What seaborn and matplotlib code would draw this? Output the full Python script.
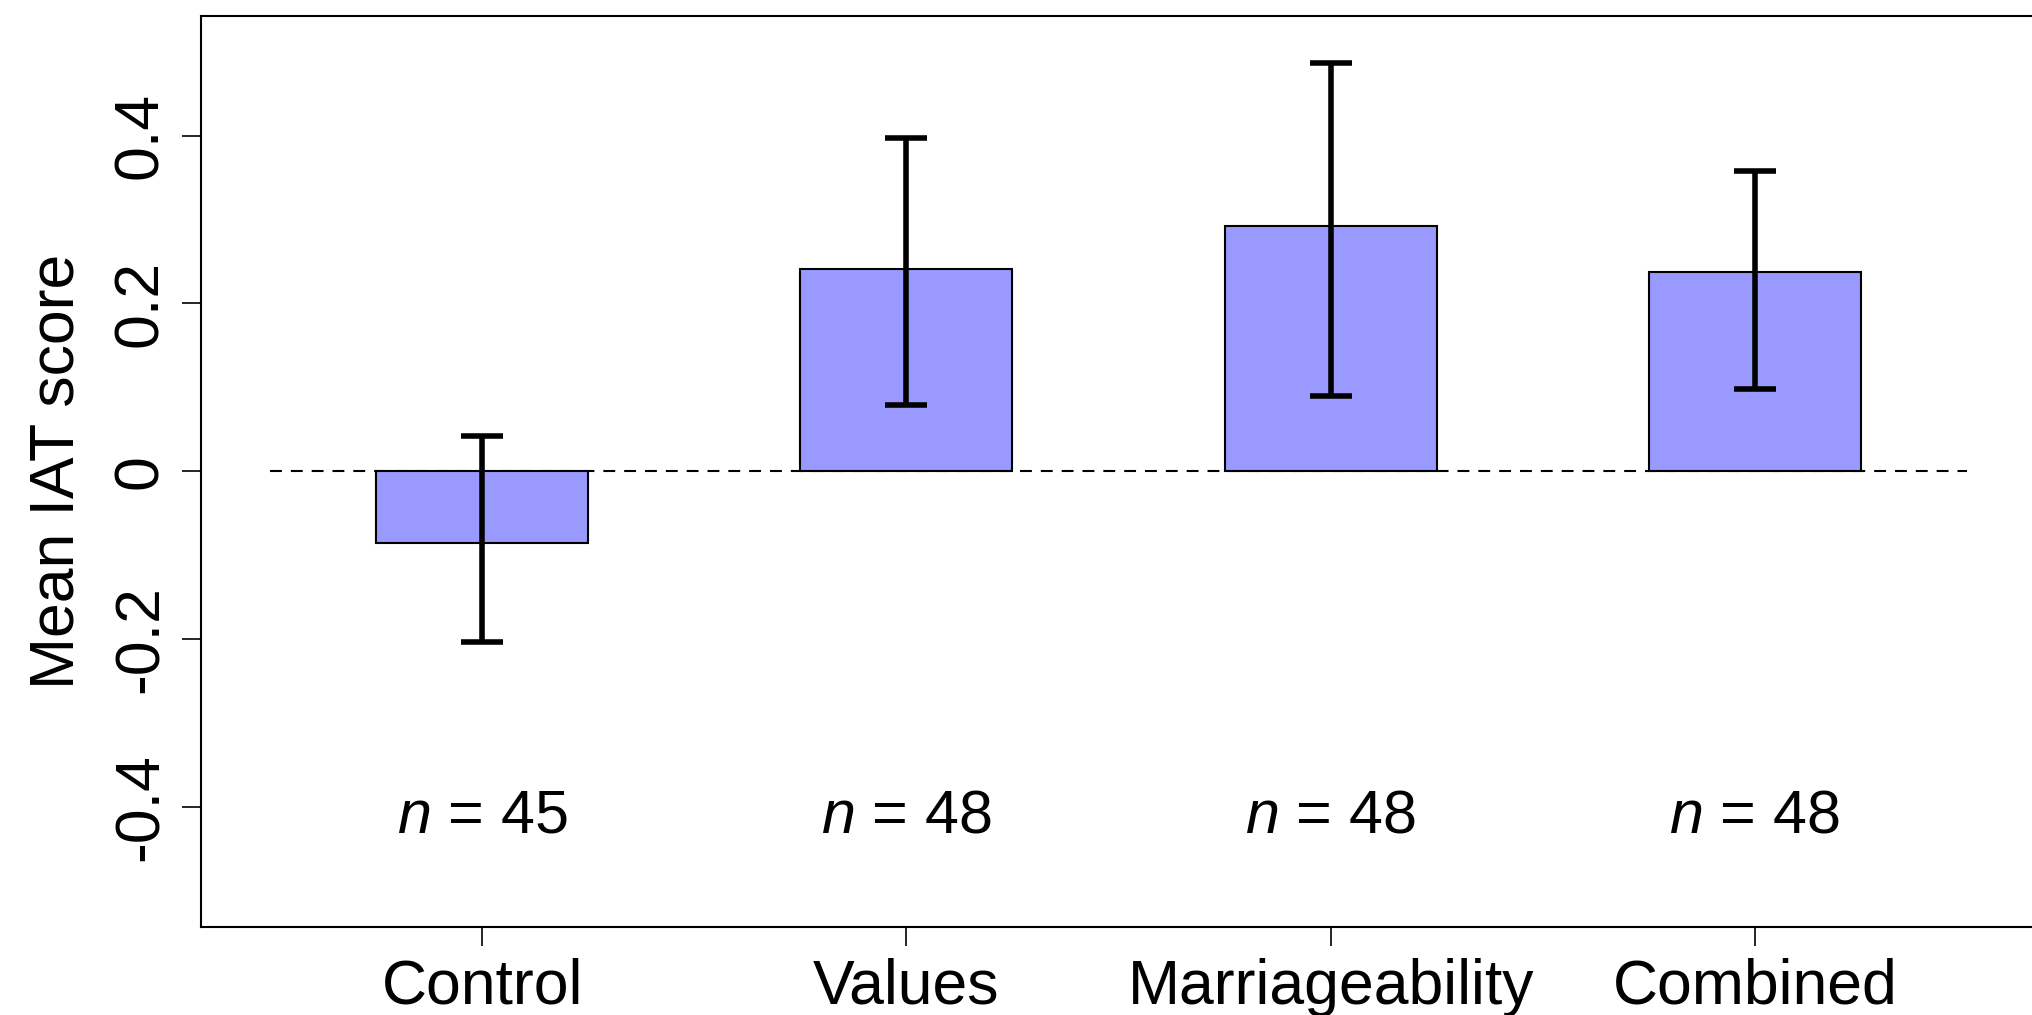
import matplotlib
matplotlib.use("Agg")
import matplotlib.pyplot as plt
import pandas as pd
import seaborn as sns

# Data
conditions = ["Control", "Values", "Marriageability", "Combined"]
mean_scores = [-0.086, 0.241, 0.292, 0.237]
ci_low = [-0.203, 0.079, 0.090, 0.098]
ci_high = [0.042, 0.397, 0.487, 0.358]
group_sizes = [45, 48, 48, 48]

sns.set_style("white")
plt.rcParams["font.family"] = ["Liberation Sans", "DejaVu Sans"]
plt.rcParams["mathtext.fontset"] = "custom"
plt.rcParams["mathtext.it"] = "Liberation Sans:italic"
plt.rcParams["mathtext.rm"] = "Liberation Sans"
plt.rcParams["text.color"] = "black"
plt.rcParams["axes.labelcolor"] = "black"
plt.rcParams["xtick.color"] = "black"
plt.rcParams["ytick.color"] = "black"

df = pd.DataFrame({"condition": conditions, "score": mean_scores})

fig = plt.figure(figsize=(20.32, 10.15), dpi=100)
ax = fig.add_axes([0.0989, 0.0867, 0.905, 0.898])

sns.barplot(data=df, x="condition", y="score", color="#9999FF", saturation=1,
            width=0.5, edgecolor="black", linewidth=1.5, errorbar=None, ax=ax,
            zorder=2)

# reference line at 0
ax.hlines(0, -0.5, 3.5, colors="black", linestyles=(0, (5.7, 4.3)), linewidth=1.5, zorder=1)

# error bars
xs = list(range(len(conditions)))
err_lo = [m - lo for m, lo in zip(mean_scores, ci_low)]
err_hi = [hi - m for m, hi in zip(mean_scores, ci_high)]
ax.errorbar(xs, mean_scores, yerr=[err_lo, err_hi], fmt="none", ecolor="black",
            elinewidth=4, capsize=15, capthick=4, zorder=3)

for x, n in zip(xs, group_sizes):
    ax.text(x, -0.412, rf"$\it{{n}}$ = {n}", ha="center", va="center", fontsize=44)

ax.set_xlim(-0.663, 3.672)
ax.set_ylim(-0.543, 0.543)
ax.set_yticks([-0.4, -0.2, 0, 0.2, 0.4])
ax.set_yticklabels(["-0.4", "-0.2", "0", "0.2", "0.4"], rotation=90, va="center")
ax.set_xlabel("")
ax.set_ylabel("Mean IAT score", fontsize=45, labelpad=18)
ax.tick_params(axis="both", labelsize=45, direction="out", length=14, width=1.2,
               pad=8, left=True, bottom=True)
for side in ["left", "bottom", "top"]:
    ax.spines[side].set_color("black")
    ax.spines[side].set_linewidth(1.5)
ax.spines["right"].set_visible(False)

fig.savefig("out.png", dpi=100)
plt.close(fig)
